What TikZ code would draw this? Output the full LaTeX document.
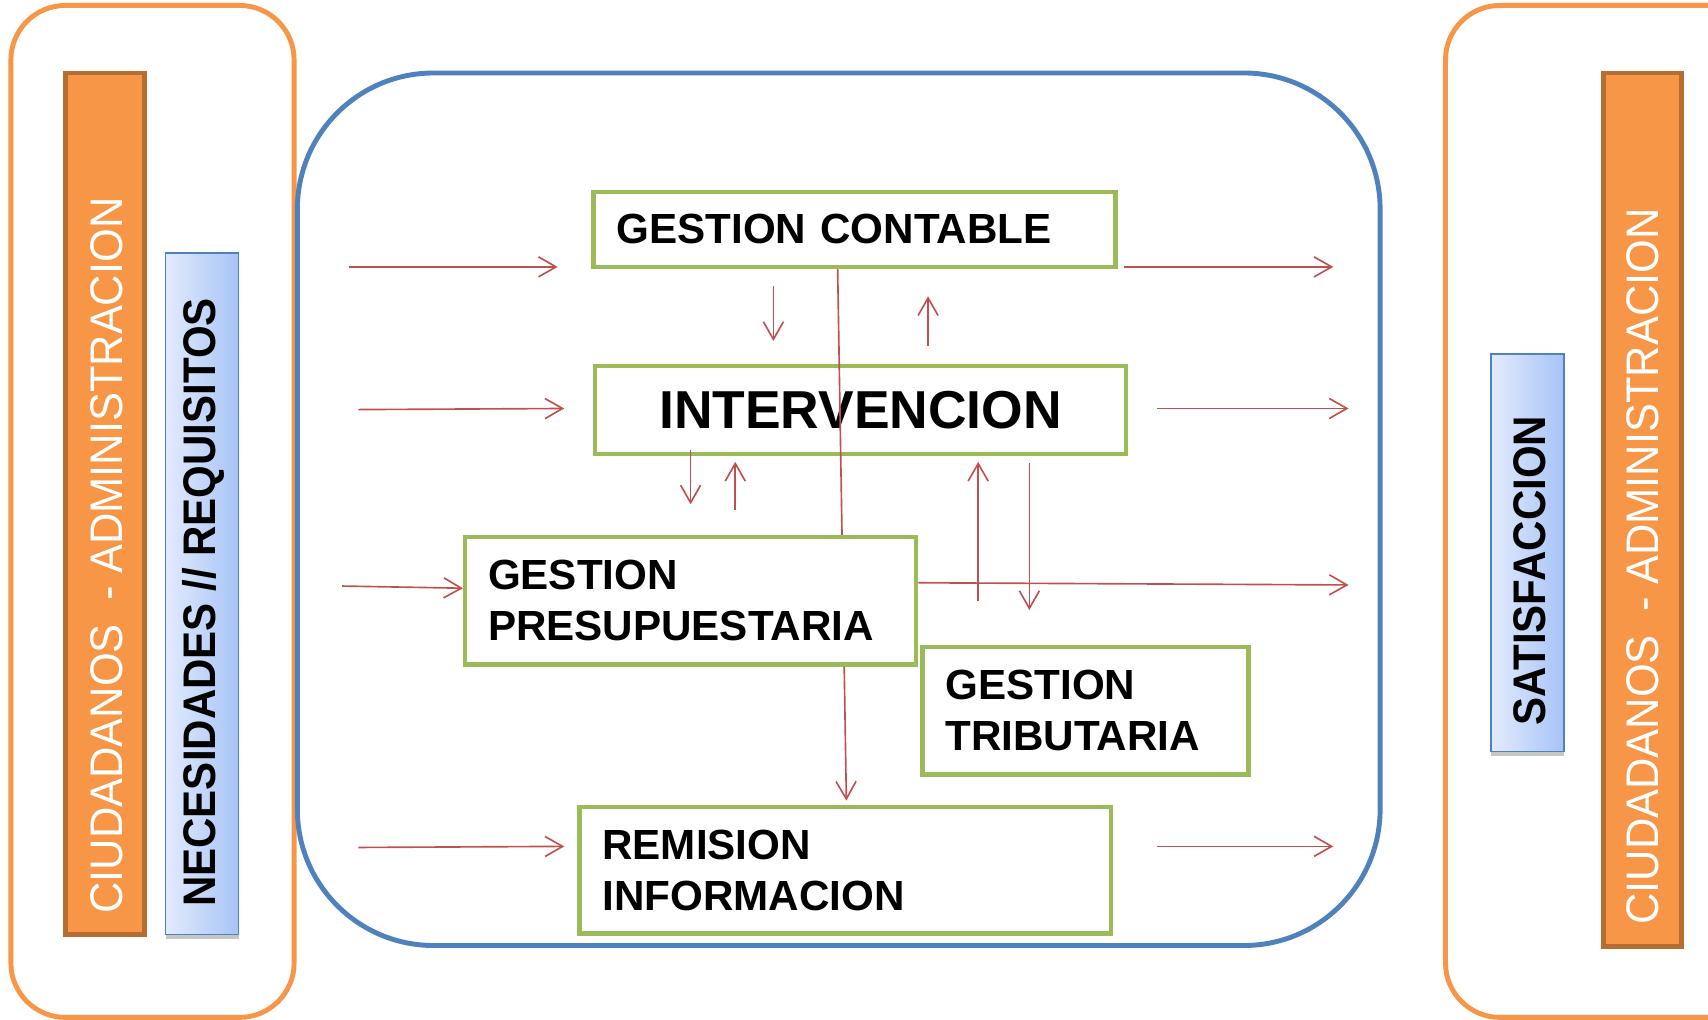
\documentclass[tikz,border=0pt]{standalone}
\usepackage{fontspec}
\setmainfont{Liberation Sans}
\usepackage{graphicx}
\usepackage{xcolor}
\usetikzlibrary{arrows.meta}

\newlength\px
\setlength\px{0.010893cm}

\definecolor{boxgreen}{HTML}{9BBB59}
\definecolor{flowred}{HTML}{C0504D}
\definecolor{frameblue}{HTML}{4F81BD}
\definecolor{frameorange}{HTML}{F79646}
\definecolor{barbrown}{HTML}{B66D31}
\definecolor{barlight}{HTML}{E2EBFC}
\definecolor{bardark}{HTML}{A7C3F6}

\tikzset{
  box/.style={draw=boxgreen, line width=4\px, inner xsep=21\px, inner ysep=0pt, align=left,
    font=\bfseries\fontsize{12}{14.6}\selectfont},
  flow/.style={draw=flowred, line width=1.5\px, -{Straight Barb[length=5pt,width=5.7pt]}},
  frame/.style={line width=4.5\px},
  orangebar/.style={draw=barbrown, line width=4.5\px, fill=frameorange},
  bluebar/.style={draw=frameblue, line width=1.5\px, left color=barlight, right color=bardark},
  sidetext/.style={rotate=90, inner sep=0pt, font=\fontsize{13}{15}\selectfont},
}

\begin{document}
\begin{tikzpicture}[x=\px, y=-\px]
        \clip (0,0) rectangle (1568,936);

        % marcos
        \draw[frame, frameorange, rounded corners=50\px] (10,5) rectangle (270,934);
        \draw[frame, frameorange, rounded corners=50\px] (1327,5) rectangle (1620,934);
        \draw[frame, frameblue, rounded corners=125\px] (273,67) rectangle (1267,868);

        % barras laterales
        \draw[orangebar] (60,67) rectangle (133,858);
        \fill[gray!45] (152,858) rectangle (219,862);
        \draw[bluebar] (152,232) rectangle (219,858);
        \fill[gray!45] (1369,690) rectangle (1436,694);
        \draw[bluebar] (1369,325) rectangle (1436,690);
        \draw[orangebar] (1472,67) rectangle (1544,869);

        \node[sidetext, white] (ciuizq) at (98,510) {\scalebox{0.95}[1]{CIUDADANOS\ \ - ADMINISTRACION}};
        \node[sidetext, font=\bfseries\fontsize{13}{15}\selectfont] (necesidades) at (187,553) {\scalebox{0.92}[1]{NECESIDADES // REQUISITOS}};
        \node[sidetext, font=\bfseries\fontsize{13}{15}\selectfont] (satisfaccion) at (1404,524) {\scalebox{0.92}[1]{SATISFACCION}};
        \node[sidetext, white] (ciuder) at (1508,520) {\scalebox{0.95}[1]{CIUDADANOS\ \ - ADMINISTRACION}};

        % areas
        \node[box, text width=437\px, minimum height=69\px] (contable) at (784.5,210.5) {GESTION CONTABLE};
        \node[box, align=center, text width=445\px, minimum height=81\px,
          font=\bfseries\fontsize{15.2}{18}\selectfont] (intervencion) at (790,376.5) {INTERVENCION};
        \node[box, text width=372\px, minimum height=117\px] (presupuesto) at (634,551.5) {GESTION\\PRESUPUESTARIA};
        \node[box, text width=257\px, minimum height=117\px] (tributaria) at (996.5,652.5) {GESTION\\TRIBUTARIA};
        \node[box, text width=446\px, minimum height=116\px] (remision) at (776,799) {REMISION\\INFORMACION};

        % entradas y salidas
        \coordinate (in1) at (320,245);   \coordinate (in1e) at (512,245);
        \coordinate (in2) at (329,376);   \coordinate (in2e) at (518,375);
        \coordinate (in3) at (314,538);
        \coordinate (in4) at (329,778);   \coordinate (in4e) at (518,777);
        \coordinate (out1) at (1032,245); \coordinate (out1e) at (1224,245);
        \coordinate (out2) at (1062,375); \coordinate (out2e) at (1238,375);
        \coordinate (out3e) at (1238,537);
        \coordinate (out4) at (1062,777); \coordinate (out4e) at (1224,777);

        \draw[flow] (in1) -- (in1e);
        \draw[flow] (in2) -- (in2e);
        \draw[flow] (in3) -- (presupuesto.west |- 0,540);
        \draw[flow] (in4) -- (in4e);
        \draw[flow] (out1) -- (out1e);
        \draw[flow] (out2) -- (out2e);
        \draw[flow] (presupuesto.east |- 0,535) -- (out3e);
        \draw[flow] (out4) -- (out4e);

        % entre areas
        \coordinate (ci1) at (710,263);  \coordinate (ci1e) at (710,313);
        \coordinate (ic1) at (852,318);  \coordinate (ic1e) at (852,272);
        \coordinate (ip1) at (634,413);  \coordinate (ip1e) at (634,463);
        \coordinate (pi1) at (675,468);  \coordinate (pi1e) at (675,424);
        \coordinate (ti1) at (898,552);  \coordinate (ti1e) at (898,424);
        \coordinate (it1) at (945,425);  \coordinate (it1e) at (945,560);

        \draw[flow] (ci1) -- (ci1e);
        \draw[flow] (ic1) -- (ic1e);
        \draw[flow] (ip1) -- (ip1e);
        \draw[flow] (pi1) -- (pi1e);
        \draw[flow] (ti1) -- (ti1e);
        \draw[flow] (it1) -- (it1e);
        \draw[flow, -] (contable.south -| 769,0) -- (presupuesto.north -| 773,0);
        \draw[flow] (presupuesto.south -| 775,0) -- (777,735) coordinate (pr1e);
    \end{tikzpicture}
\end{document}
